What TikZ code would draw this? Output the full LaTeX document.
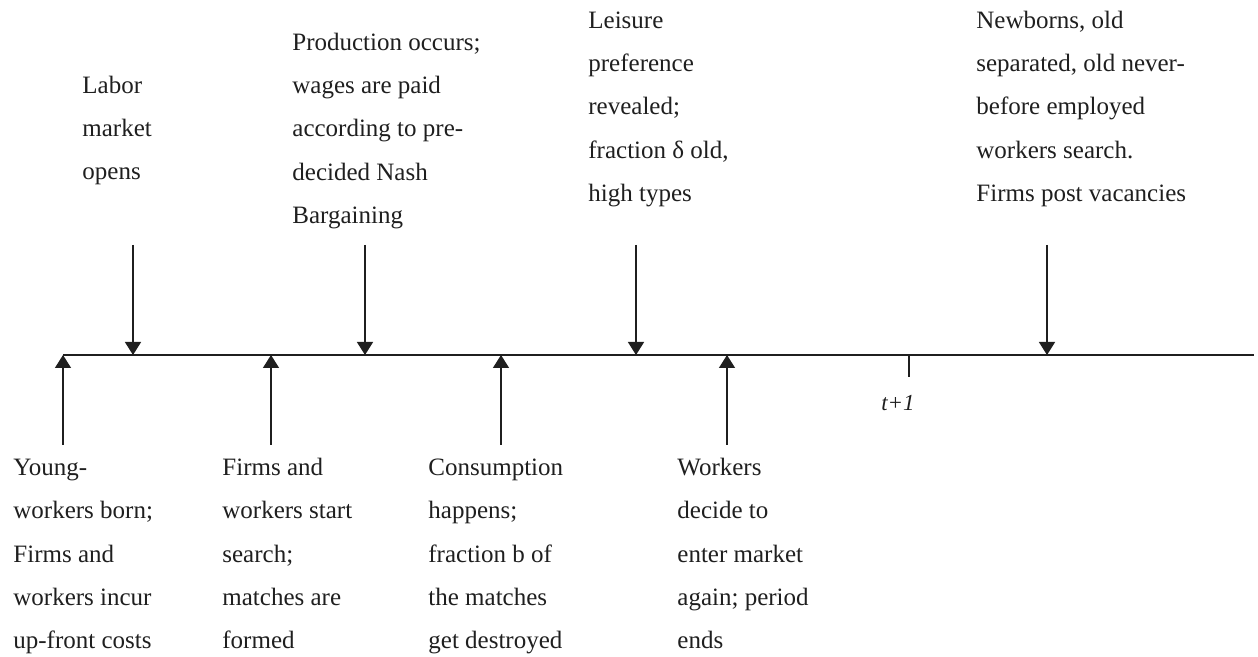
\documentclass[tikz,border=0pt]{standalone}
\usepackage{fontspec}
\setmainfont{Liberation Serif}
\usetikzlibrary{arrows.meta}
\definecolor{ink}{gray}{0.12}
\newcommand{\tp}{\rule{0pt}{10pt}}
\begin{document}
\begin{tikzpicture}[x=0.5pt,y=-0.5pt,
  lbl/.style={anchor=north west,inner sep=0pt,align=left,text=ink,
    font=\fontsize{12.5}{21.65}\selectfont},
  tline/.style={draw=ink,line width=0.9pt},
  evarrow/.style={draw=ink,line width=0.7pt,-{Triangle[width=8pt,length=6.5pt]}},
  tickmark/.style={draw=ink,line width=0.7pt}]
\useasboundingbox (0,0) rectangle (1258,657);
% timeline
\coordinate (tl0) at (63,355);
\coordinate (tl1) at (1254,355);
\draw[tline] (tl0) -- (tl1);
% tick t+1
\coordinate (tk0) at (909,355);
\coordinate (tk1) at (909,377);
\draw[tickmark] (tk0) -- (tk1);
\node[anchor=base,inner sep=0pt,text=ink,font=\fontsize{11.5}{14}\selectfont\itshape] (tplus) at (898,411) {t+1};
% top labels
\node[lbl] (labor) at (82,73) {\tp Labor\\market\\opens};
\node[lbl] (prod) at (292,30) {\tp Production occurs;\\wages are paid\\according to pre-\\decided Nash\\Bargaining};
\node[lbl] (leis) at (588,8) {\tp Leisure\\preference\\revealed;\\fraction δ old,\\high types};
\node[lbl] (newb) at (976,8) {\tp Newborns, old\\separated, old never-\\before employed\\workers search.\\Firms post vacancies};
% bottom labels
\node[lbl] (young) at (13,455) {\tp Young-\\workers born;\\Firms and\\workers incur\\up-front costs};
\node[lbl] (firms) at (222,455) {\tp Firms and\\workers start\\search;\\matches are\\formed};
\node[lbl] (cons) at (428,455) {\tp Consumption\\happens;\\fraction b of\\the matches\\get destroyed};
\node[lbl] (work) at (677,455) {\tp Workers\\decide to\\enter market\\again; period\\ends};
% down arrows
\foreach \n/\x in {d1/133,d2/365,d3/636,d4/1047}{
  \coordinate (\n s) at (\x,245);
  \coordinate (\n e) at (\x,355);
  \draw[evarrow] (\n s) -- (\n e);
}
% up arrows
\foreach \n/\x in {u1/63,u2/271,u3/501,u4/727}{
  \coordinate (\n s) at (\x,445);
  \coordinate (\n e) at (\x,355);
  \draw[evarrow] (\n s) -- (\n e);
}
\end{tikzpicture}
\end{document}
